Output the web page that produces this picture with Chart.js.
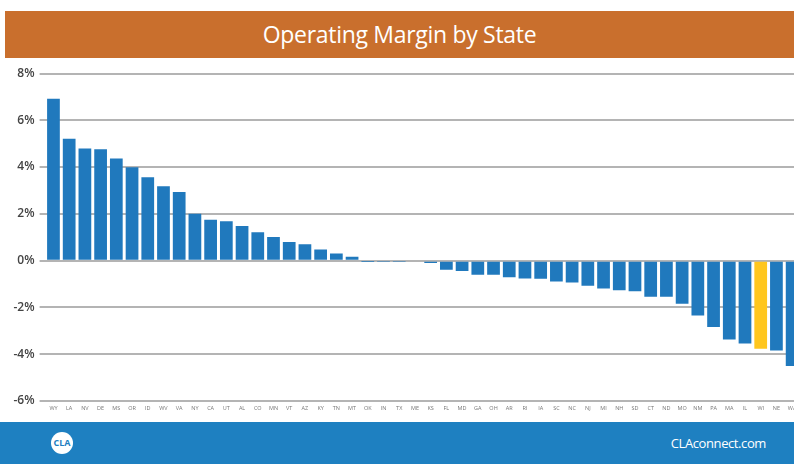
<!DOCTYPE html>
<html>
<head>
<meta charset="utf-8">
<script src="https://cdn.jsdelivr.net/npm/chart.js@4/dist/chart.umd.min.js"></script>
<style>
  html, body { margin: 0; padding: 0; background: #fff; overflow: hidden; }
  body { width: 794px; height: 464px; position: relative; font-family: "Open Sans", sans-serif; }
  #title {
    position: absolute; left: 5px; top: 11px; width: 789px; height: 47px;
    background: #c96f2d; color: #fff; font-size: 23px; line-height: 47px;
    text-align: center; letter-spacing: -0.3px;
  }
  #chartBox { position: absolute; left: 0; top: 60px; width: 802px; height: 360px; }
  #footer {
    position: absolute; left: 0; top: 422px; width: 794px; height: 42px;
    background: #1e80c1;
  }
  #logo {
    position: absolute; left: 51px; top: 10px; width: 22px; height: 22px;
    border-radius: 50%; background: #fff; color: #1e80c1;
    font-size: 9px; font-weight: 700; line-height: 22px; text-align: center;
  }
  #site {
    position: absolute; right: 28px; top: 12px; color: #fff; font-size: 13px;
    letter-spacing: -0.4px;
  }
</style>
</head>
<body>
<div id="title">Operating Margin by State</div>
<div id="chartBox"><canvas id="marginChart" width="802" height="360"></canvas></div>
<div id="footer"><div id="logo">CLA</div><div id="site">CLAconnect.com</div></div>
<script>
// data
const states = ['WY', 'LA', 'NV', 'DE', 'MS', 'OR', 'ID', 'WV', 'VA', 'NY', 'CA', 'UT', 'AL', 'CO', 'MN', 'VT',
  'AZ', 'KY', 'TN', 'MT', 'OK', 'IN', 'TX', 'ME', 'KS', 'FL', 'MD', 'GA', 'OH', 'AR', 'RI', 'IA',
  'SC', 'NC', 'NJ', 'MI', 'NH', 'SD', 'CT', 'ND', 'MO', 'NM', 'PA', 'MA', 'IL', 'WI', 'NE', 'WA'];
const margins = [6.92, 5.21, 4.79, 4.76, 4.37, 3.99, 3.57, 3.18, 2.93, 2.00, 1.75, 1.68, 1.48, 1.21, 1.01, 0.80,
  0.70, 0.48, 0.31, 0.17, -0.01, -0.03, -0.03, -0.05, -0.10, -0.39, -0.44, -0.60, -0.60, -0.71, -0.76, -0.77,
  -0.89, -0.93, -1.07, -1.19, -1.27, -1.31, -1.54, -1.54, -1.84, -2.34, -2.84, -3.37, -3.54, -3.77, -3.84, -4.50];
const highlightState = 'WI';
const yMin = -6, yMax = 8, yStep = 2;

const barColors = states.map(s => s === highlightState ? '#ffc61e' : '#2079bd');

const ctx = document.getElementById('marginChart').getContext('2d');
new Chart(ctx, {
  type: 'bar',
  data: {
    labels: states,
    datasets: [{
      label: 'Operating Margin',
      data: margins,
      backgroundColor: barColors,
      borderWidth: 0,
      categoryPercentage: 1,
      barPercentage: 0.81
    }]
  },
  options: {
    responsive: false,
    animation: false,
    layout: { padding: { top: 13.5, right: 2, left: 0, bottom: 0 } },
    plugins: { legend: { display: false }, tooltip: { enabled: false } },
    scales: {
      x: {
        grid: { display: false, drawTicks: false },
        border: { display: false },
        ticks: {
          autoSkip: false, maxRotation: 0, minRotation: 0, padding: 4,
          color: '#777', font: { size: 5.5, family: 'Open Sans' }
        },
        afterFit: scale => { scale.height = 19; }
      },
      y: {
        min: yMin,
        max: yMax,
        grid: { color: '#b4b4b4', lineWidth: 2, tickLength: 6 },
        border: { display: false },
        ticks: {
          stepSize: yStep, autoSkip: false,
          padding: 5, color: '#444',
          font: { size: 12, weight: '600', family: 'Open Sans' },
          callback: v => v + '%'
        },
        afterFit: scale => { scale.width = 45.6; }
      }
    }
  }
});
</script>
</body>
</html>
